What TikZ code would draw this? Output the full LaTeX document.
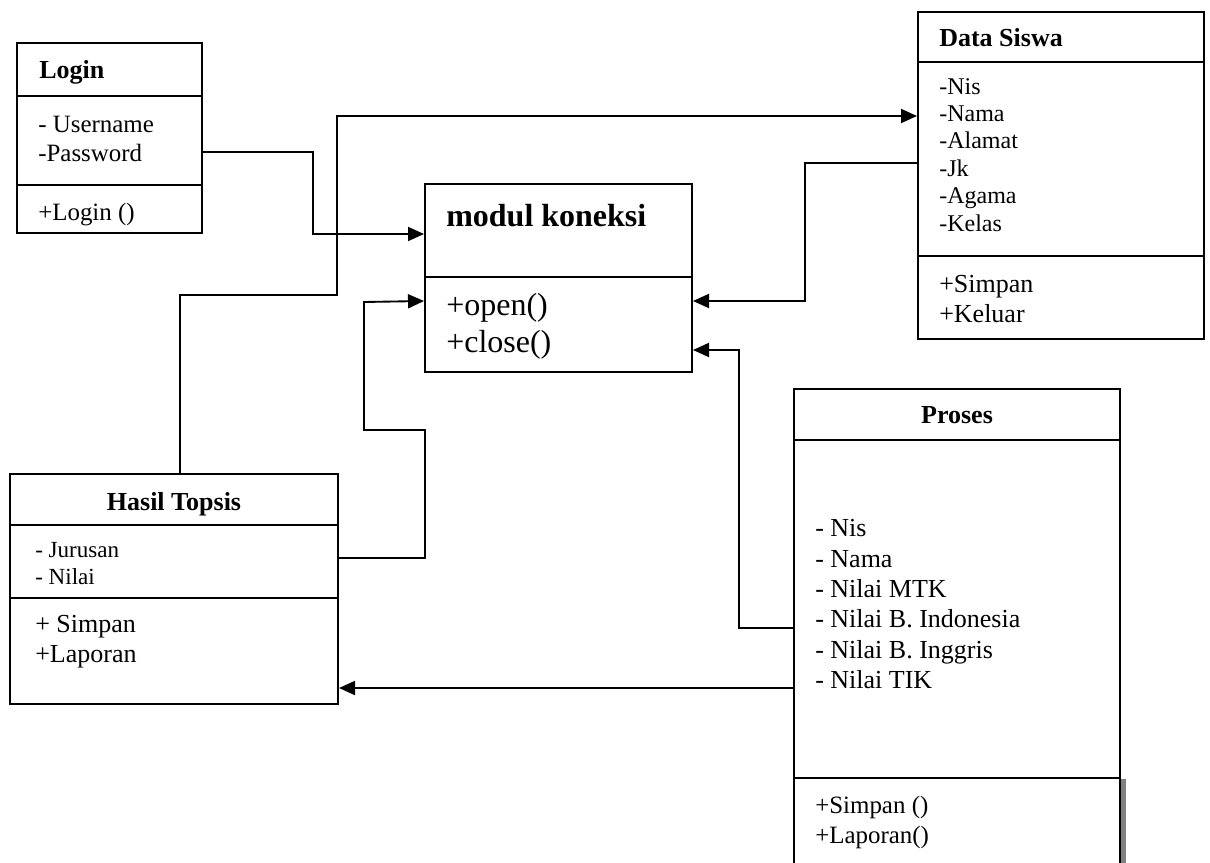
\documentclass[tikz,border=0pt]{standalone}
\usepackage{fontspec}
\setmainfont{Liberation Serif}
\usetikzlibrary{arrows.meta,fit}

\begin{document}
\begin{tikzpicture}[x=0.75pt,y=-0.75pt,
  box/.style={draw, line width=1.5pt, inner sep=0pt},
  sep/.style={line width=1.5pt},
  conn/.style={line width=1.4pt},
  arr/.style={conn, -{Triangle[length=12pt,width=10.5pt]}},
  txt/.style={anchor=base west, inner sep=0pt, font=\fontsize{18.7pt}{22pt}\selectfont},
  small/.style={txt, font=\fontsize{17.3pt}{21pt}\selectfont},
  big/.style={txt, font=\fontsize{19.5pt}{23pt}\selectfont},
  huge/.style={txt, font=\fontsize{24pt}{28pt}\selectfont},
  title/.style={anchor=base, inner sep=0pt, font=\fontsize{19.5pt}{23pt}\selectfont\bfseries},
]
\useasboundingbox (0,0) rectangle (1210,863);
\clip (0,0) rectangle (1210,863);

% ---- Login ----
\node[box, fit={(17,43) (202,233)}] (login) {};
\draw[sep] (login.west |- 0,96) -- (login.east |- 0,96);
\draw[sep] (login.west |- 0,185) -- (login.east |- 0,185);
\node[title, anchor=base west] (loginT) at (39,79) {Login};
\node[txt] (loginA1) at (38,133) {- Username};
\node[txt] (loginA2) at (38,162) {-Password};
\node[txt] (loginM1) at (38,220) {+Login ()};

% ---- modul koneksi ----
\node[box, fit={(425,184) (692,372)}] (modul) {};
\draw[sep] (modul.west |- 0,277) -- (modul.east |- 0,277);
\node[huge, font=\fontsize{24pt}{28pt}\selectfont\bfseries] (modulT) at (446,227) {modul koneksi};
\node[huge] (modulM1) at (446,315) {+open()};
\node[huge] (modulM2) at (446,352) {+close()};

% ---- Data Siswa ----
\node[box, fit={(918,12) (1204,339)}] (siswa) {};
\draw[sep] (siswa.west |- 0,62) -- (siswa.east |- 0,62);
\draw[sep, line width=2pt] (siswa.west |- 0,256) -- (siswa.east |- 0,256);
\node[title, anchor=base west] (siswaT) at (939,47) {Data Siswa};
\node[txt, font=\fontsize{18pt}{21pt}\selectfont] (siswaA1) at (939,95) {-Nis};
\node[txt, font=\fontsize{18pt}{21pt}\selectfont] (siswaA2) at (939,122) {-Nama};
\node[txt, font=\fontsize{18pt}{21pt}\selectfont] (siswaA3) at (939,149) {-Alamat};
\node[txt, font=\fontsize{18pt}{21pt}\selectfont] (siswaA4) at (939,177) {-Jk};
\node[txt, font=\fontsize{18pt}{21pt}\selectfont] (siswaA5) at (939,204) {-Agama};
\node[txt, font=\fontsize{18pt}{21pt}\selectfont] (siswaA6) at (939,232) {-Kelas};
\node[big] (siswaM1) at (939,292) {+Simpan};
\node[big] (siswaM2) at (939,322) {+Keluar};

% ---- Proses (runs past the lower edge) ----
\node[box, fit={(794,389) (1120,900)}] (proses) {};
\draw[sep] (proses.west |- 0,440) -- (proses.east |- 0,440);
\draw[sep] (proses.west |- 0,778) -- (proses.east |- 0,778);
\draw[line width=3.5pt, gray] (1123.5,779) -- (1123.5,870);
\node[title] (prosesT) at (957,423) {Proses};
\node[big] (prosesA1) at (815,536) {- Nis};
\node[big] (prosesA2) at (815,567) {- Nama};
\node[big] (prosesA3) at (815,597) {- Nilai MTK};
\node[big] (prosesA4) at (815,627) {- Nilai B. Indonesia};
\node[big] (prosesA5) at (815,658) {- Nilai B. Inggris};
\node[big] (prosesA6) at (815,688) {- Nilai TIK};
\node[txt] (prosesM1) at (815,813) {+Simpan ()};
\node[txt] (prosesM2) at (815,843) {+Laporan()};

% ---- Hasil Topsis ----
\node[box, fit={(10,474) (338,704)}] (hasil) {};
\draw[sep] (hasil.west |- 0,525) -- (hasil.east |- 0,525);
\draw[sep] (hasil.west |- 0,598) -- (hasil.east |- 0,598);
\node[title] (hasilT) at (174,510) {Hasil Topsis};
\node[small] (hasilA1) at (35,557) {- Jurusan};
\node[small] (hasilA2) at (35,584) {- Nilai};
\node[big] (hasilM1) at (35,632) {+ Simpan};
\node[big] (hasilM2) at (35,662) {+Laporan};

% ---- connectors ----
\draw[arr] (login.east |- 0,152) -| (313,234) -- (modul.west |- 0,234);
\draw[arr] (hasil.north -| 180,0) |- (337,295) |- (siswa.west |- 0,116);
\draw[arr] (hasil.east |- 0,558) -| (425,430) -| (364,302) -- (modul.west |- 0,301);
\draw[arr] (siswa.west |- 0,163) -| (805,301) -- (modul.east |- 0,301);
\draw[arr] (proses.west |- 0,628) -| (739,350) -- (modul.east |- 0,350);
\draw[arr] (proses.west |- 0,688) -- (hasil.east |- 0,688);
\end{tikzpicture}
\end{document}
